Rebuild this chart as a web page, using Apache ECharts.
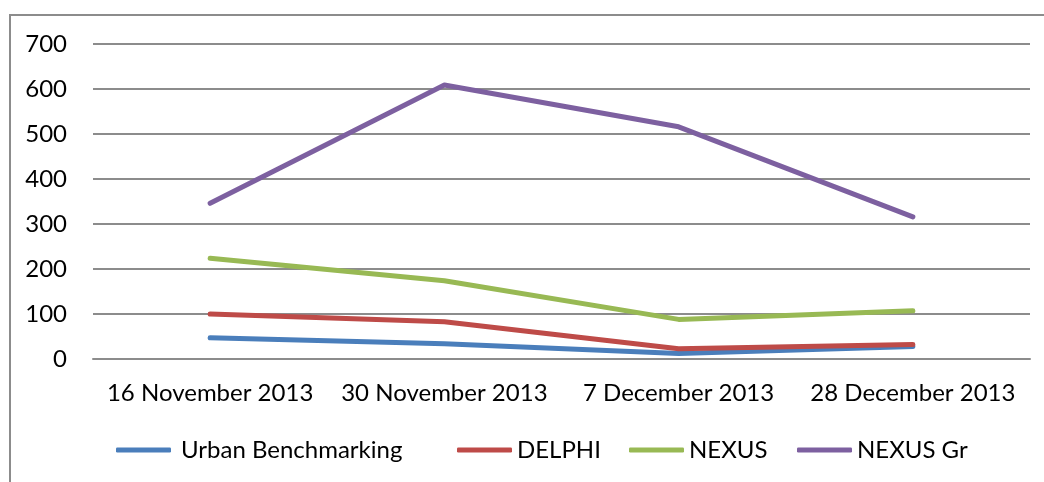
<!DOCTYPE html>
<html>
<head>
<meta charset="utf-8">
<script src="https://cdn.jsdelivr.net/npm/echarts@6/dist/echarts.min.js"></script>
<style>
  html, body { margin: 0; padding: 0; background: #fff; }
  #chart { width: 1044px; height: 482px; }
</style>
</head>
<body>
<div id="chart"></div>
<script>
// dates on the x axis
const categories = ['16 November 2013', '30 November 2013', '7 December 2013', '28 December 2013']

// series values
const urbanBenchmarking = [47, 34, 12, 28]
const delphi = [100, 83, 23, 32]
const nexus = [224, 174, 88, 107]
const nexusGr = [346, 609, 516, 316]

const seriesNames = ['Urban Benchmarking', 'DELPHI', 'NEXUS', 'NEXUS Gr']
const seriesColors = ['#4a7ebb', '#be4b48', '#98b954', '#7d60a0']
const seriesValues = [urbanBenchmarking, delphi, nexus, nexusGr]

const chart = echarts.init(document.getElementById('chart'))

const font = 'Lato, "Open Sans", sans-serif'
// legend placement, one legend per series like the original
const legendLeft = [116, 457, 629, 797]
const legendTextPad = [5, 0, 0, 0]

const option = {
  backgroundColor: '#fff',
  animation: false,
  textStyle: { fontFamily: font },
  graphic: [{
    type: 'rect',
    shape: { x: 10, y: 15, width: 1100, height: 600 },
    style: { fill: 'none', stroke: '#8c8c8c', lineWidth: 2 },
    silent: true
  }],
  grid: { left: 93, right: 14, top: 44, bottom: 123 },
  xAxis: {
    type: 'category',
    data: categories,
    boundaryGap: true,
    axisLine: { lineStyle: { color: '#8c8c8c', width: 2 } },
    axisTick: { show: false },
    axisLabel: { color: '#000', fontSize: 24, margin: 22, fontFamily: font, interval: 0 }
  },
  yAxis: {
    type: 'value',
    min: 0,
    max: 700,
    interval: 100,
    axisLine: { show: false },
    axisTick: { show: false },
    axisLabel: { color: '#000', fontSize: 24, margin: 26, fontFamily: font },
    splitLine: { lineStyle: { color: '#8c8c8c', width: 2 } }
  },
  legend: seriesNames.map((name, i) => ({
    show: true,
    data: [name],
    left: legendLeft[i],
    top: 438,
    padding: 0,
    itemWidth: 55,
    itemHeight: 5,
    icon: 'roundRect',
    textStyle: { color: '#000', fontSize: 24, fontFamily: font, padding: [0, 0, 0, legendTextPad[i]] }
  })),
  series: seriesNames.map((name, i) => ({
    name,
    type: 'line',
    data: seriesValues[i],
    symbol: 'none',
    smooth: false,
    color: seriesColors[i],
    lineStyle: { width: 5, color: seriesColors[i], cap: 'round', join: 'round' }
  }))
}

chart.setOption(option)
</script>
</body>
</html>
